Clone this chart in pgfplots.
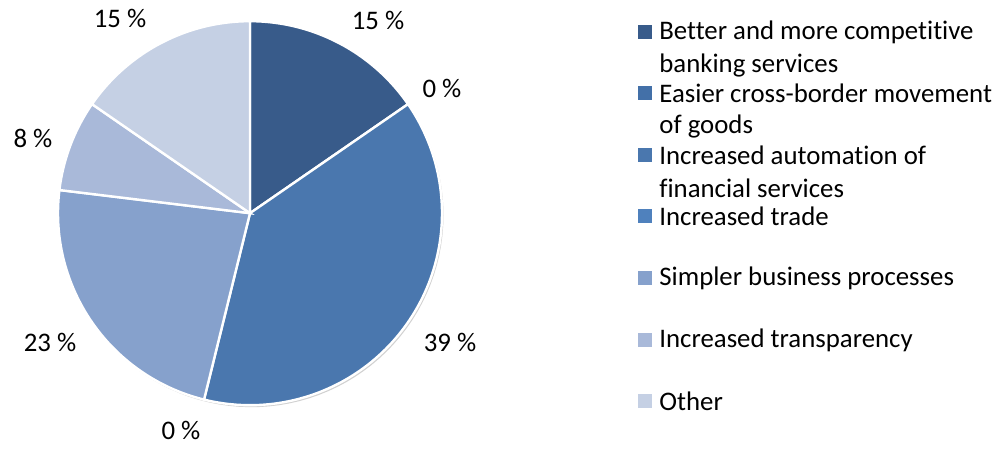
\documentclass[border=0pt]{standalone}
\usepackage{pgfplots}
\pgfplotsset{compat=1.18}
\usepackage{fontspec}
\setmainfont{Carlito}[Ligatures={NoCommon}]
\definecolor{c1}{HTML}{385B8A}
\definecolor{c2}{HTML}{4370A8}
\definecolor{c3}{HTML}{4A77AE}
\definecolor{c4}{HTML}{4F81BD}
\definecolor{c5}{HTML}{86A1CC}
\definecolor{c6}{HTML}{A9B9D9}
\definecolor{c7}{HTML}{C5D0E4}
% counts of answers (13 in total)
\def\nA{2}\def\nB{0}\def\nC{5}\def\nD{0}\def\nE{3}\def\nF{1}\def\nG{2}
\pgfmathsetmacro\tot{\nA+\nB+\nC+\nD+\nE+\nF+\nG}
\pgfmathsetmacro\aA{90}
\pgfmathsetmacro\aB{\aA-360*\nA/\tot}
\pgfmathsetmacro\aC{\aB-360*\nB/\tot}
\pgfmathsetmacro\aD{\aC-360*\nC/\tot}
\pgfmathsetmacro\aE{\aD-360*\nD/\tot}
\pgfmathsetmacro\aF{\aE-360*\nE/\tot}
\pgfmathsetmacro\aG{\aF-360*\nF/\tot}
\pgfmathsetmacro\aH{\aG-360*\nG/\tot}
\def\cx{250}\def\cy{229}\def\rr{192}
\begin{document}
\fontsize{13.4}{16}\selectfont
\begin{tikzpicture}[font=\fontsize{13.4}{16}\selectfont]
\begin{axis}[width=501.5pt,height=221pt,scale only axis,
  xmin=0,xmax=1003,ymin=0,ymax=442,hide axis,clip=false]
\addplot[draw=none,forget plot] coordinates {(0,0) (1003,442)};
% soft shadow
\addplot[fill=black!18,draw=none,domain=0:360,samples=120,variable=\t]
  ({\cx+1.5+\rr*cos(\t)},{\cy-2+\rr*sin(\t)}) -- cycle;
\addplot[fill=c1,draw=white,line width=1.2pt,domain=\aB:\aA,samples=60,variable=\t]
  ({\cx+\rr*cos(\t)},{\cy+\rr*sin(\t)}) -- (axis cs:\cx,\cy) -- cycle;
\addplot[fill=c3,draw=white,line width=1.2pt,domain=\aD:\aC,samples=100,variable=\t]
  ({\cx+\rr*cos(\t)},{\cy+\rr*sin(\t)}) -- (axis cs:\cx,\cy) -- cycle;
\addplot[fill=c5,draw=white,line width=1.2pt,domain=\aF:\aE,samples=80,variable=\t]
  ({\cx+\rr*cos(\t)},{\cy+\rr*sin(\t)}) -- (axis cs:\cx,\cy) -- cycle;
\addplot[fill=c6,draw=white,line width=1.2pt,domain=\aG:\aF,samples=40,variable=\t]
  ({\cx+\rr*cos(\t)},{\cy+\rr*sin(\t)}) -- (axis cs:\cx,\cy) -- cycle;
\addplot[fill=c7,draw=white,line width=1.2pt,domain=\aH:\aG,samples=60,variable=\t]
  ({\cx+\rr*cos(\t)},{\cy+\rr*sin(\t)}) -- (axis cs:\cx,\cy) -- cycle;
% data labels
\node at (axis cs:378,422) {15 \%};
\node at (axis cs:442,354) {0 \%};
\node at (axis cs:450,100) {39 \%};
\node at (axis cs:181,12) {0 \%};
\node at (axis cs:50,100) {23 \%};
\node at (axis cs:33,304) {8 \%};
\node at (axis cs:120,424) {15 \%};
% legend markers
\addplot[only marks,mark=square*,mark size=6.5pt/2,color=c1] coordinates {(645,410)};
\addplot[only marks,mark=square*,mark size=6.5pt/2,color=c2] coordinates {(645,349)};
\addplot[only marks,mark=square*,mark size=6.5pt/2,color=c3] coordinates {(645,287)};
\addplot[only marks,mark=square*,mark size=6.5pt/2,color=c4] coordinates {(645,226)};
\addplot[only marks,mark=square*,mark size=6.5pt/2,color=c5] coordinates {(645,164)};
\addplot[only marks,mark=square*,mark size=6.5pt/2,color=c6] coordinates {(645,102)};
\addplot[only marks,mark=square*,mark size=6.5pt/2,color=c7] coordinates {(645,41)};
\begin{scope}[every node/.append style={anchor=west,inner sep=0pt}]
\node at (axis cs:659,410) {Better and more competitive};
\node at (axis cs:659,377) {banking services};
\node at (axis cs:659,349) {Easier cross-border movement};
\node at (axis cs:659,316) {of goods};
\node at (axis cs:659,287) {Increased automation of};
\node at (axis cs:659,254) {financial services};
\node at (axis cs:659,226) {Increased trade};
\node at (axis cs:659,164) {Simpler business processes};
\node at (axis cs:659,102) {Increased transparency};
\node at (axis cs:659,41) {Other};
\end{scope}
\end{axis}
\end{tikzpicture}
\end{document}
